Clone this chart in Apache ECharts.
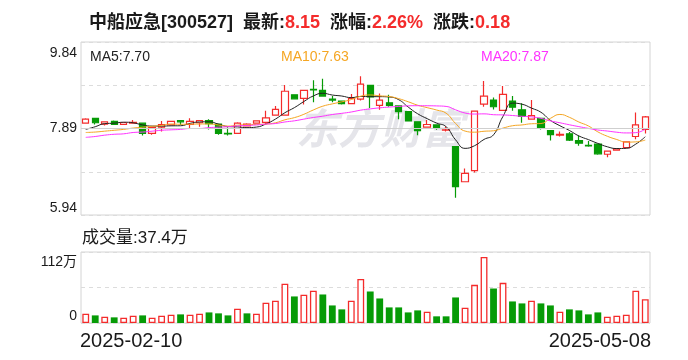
<!DOCTYPE html>
<html><head><meta charset="utf-8">
<script src="https://cdn.jsdelivr.net/npm/echarts@6/dist/echarts.min.js"></script>
<style>html,body{margin:0;padding:0;background:#fff}#c{width:688px;height:360px}</style>
</head><body><div id="c"></div>
<script>
const dates = ['2025-02-10','2025-02-11','2025-02-12','2025-02-13','2025-02-14','2025-02-17','2025-02-18','2025-02-19','2025-02-20','2025-02-21','2025-02-24','2025-02-25','2025-02-26','2025-02-27','2025-02-28',
'2025-03-03','2025-03-04','2025-03-05','2025-03-06','2025-03-07','2025-03-10','2025-03-11','2025-03-12','2025-03-13','2025-03-14','2025-03-17','2025-03-18','2025-03-19','2025-03-20','2025-03-21','2025-03-24','2025-03-25','2025-03-26','2025-03-27','2025-03-28','2025-03-31',
'2025-04-01','2025-04-02','2025-04-03','2025-04-07','2025-04-08','2025-04-09','2025-04-10','2025-04-11','2025-04-14','2025-04-15','2025-04-16','2025-04-17','2025-04-18','2025-04-21','2025-04-22','2025-04-23','2025-04-24','2025-04-25','2025-04-28','2025-04-29','2025-04-30',
'2025-05-06','2025-05-07','2025-05-08'];
const opens = [8.01,8.12,7.99,8.05,7.98,8.01,8.01,7.78,7.92,7.97,
8.07,7.98,8.02,8.07,7.99,7.78,7.78,7.95,8.01,8.03,
8.19,8.19,8.65,8.57,8.77,8.75,8.55,8.51,8.45,8.55,
8.86,8.41,8.47,8.40,8.27,8.04,7.92,7.97,7.85,7.48,
6.69,6.94,8.44,8.53,8.30,8.51,8.31,8.10,8.12,7.84,
7.74,7.77,7.62,7.51,7.54,7.31,7.40,7.46,7.71,7.87];
const closes = [8.10,8.02,8.04,7.98,8.02,8.03,7.78,7.91,7.98,8.05,
8.04,8.05,8.07,8.00,7.78,7.77,8.01,7.99,8.06,8.13,
8.32,8.73,8.56,8.75,8.76,8.62,8.53,8.45,8.57,8.89,
8.60,8.53,8.41,8.27,8.06,7.84,7.98,7.91,7.86,6.58,
6.88,8.28,8.62,8.38,8.66,8.37,8.16,8.18,7.91,7.75,
7.76,7.63,7.56,7.50,7.32,7.38,7.43,7.59,7.97,8.15];
const lows = [8.00,7.98,7.96,7.97,7.97,8.00,7.73,7.75,7.82,7.96,
7.97,7.89,7.93,7.87,7.75,7.73,7.78,7.94,8.00,7.99,
8.18,8.18,8.55,8.43,8.48,8.61,8.48,8.43,8.44,8.52,
8.35,8.31,8.38,8.10,8.05,7.74,7.91,7.86,7.82,6.33,
6.68,6.90,8.38,8.32,8.29,8.29,8.02,8.09,7.87,7.62,
7.71,7.61,7.50,7.48,7.30,7.24,7.39,7.45,7.65,7.78];
const highs = [8.12,8.12,8.05,8.07,8.03,8.08,8.02,7.91,8.06,8.06,
8.07,8.12,8.08,8.10,7.99,7.92,8.03,8.01,8.07,8.29,
8.40,8.87,8.66,8.76,8.98,9.01,8.62,8.52,8.67,9.07,
8.87,8.68,8.65,8.40,8.28,8.05,8.08,7.97,7.93,7.49,
6.99,8.29,8.96,8.59,8.85,8.62,8.46,8.53,8.12,7.85,
7.82,7.81,7.73,7.61,7.55,7.39,7.44,7.60,8.25,8.17];
const volumes = [14.7,12.0,9.9,8.9,8.4,11.5,12.0,8.4,11.5,13.1,
13.6,13.1,14.7,16.7,15.2,12.0,22.5,15.2,14.7,31.9,
35.1,61.8,41.9,44.5,50.8,45.0,27.7,21.5,35.1,69.6,
49.7,38.7,24.6,24.6,16.7,19.9,17.8,10.5,10.5,40.3,
24.1,60.2,104.1,54.4,63.3,34.0,30.9,35.1,30.9,27.7,
17.8,21.5,19.9,13.6,16.7,9.9,11.5,13.1,50.8,37.4];
// moving-average values before a full window exists
const ma5Head = [7.87,7.93,8.00,8.01];
const ma10Head = [7.80,7.81,7.83,7.85,7.87,7.90,7.92,7.94,7.96];
const ma20Head = [7.69,7.71,7.74,7.76,7.77,7.80,7.81,7.83,7.85,7.86,7.87,7.89,7.89,7.91,7.92,7.93,7.95,7.96,7.97];
const priceTicks = [5.94, 7.89, 9.84];
const volTicks = [0, 112];

function ma(n, head) {
  return closes.map((c, i) => {
    if (i < n - 1) return head[i];
    let s = 0;
    for (let k = i - n + 1; k <= i; k++) s += closes[k];
    return +(s / n).toFixed(3);
  });
}
const ma5 = ma(5, ma5Head), ma10 = ma(10, ma10Head), ma20 = ma(20, ma20Head);
const UP = '#f42b2b', DOWN = '#069b06';
const FONT = '"Liberation Sans","Noto Sans CJK SC",sans-serif';
const last = closes.length - 1;
const chg = closes[last] - closes[last - 1];
const pct = chg / closes[last - 1] * 100;

const chart = echarts.init(document.getElementById('c'), null, {renderer: 'canvas'});
const isTick = (v, arr) => arr.some(t => Math.abs(v - t) < 1e-6);

const option = {
  animation: false,
  backgroundColor: '#fff',
  textStyle: {fontFamily: FONT},
  title: [
    {left: 89, top: 14, padding: 0,
     text: '{n|中船应急[300527]}  {n|最新:}{r|' + closes[last].toFixed(2) + '}  {n|涨幅:}{r|' + pct.toFixed(2) + '%}  {n|涨跌:}{r|' + chg.toFixed(2) + '}',
     textStyle: {rich: {n: {fontSize: 18, color: '#1a1a1a', fontFamily: FONT}, r: {fontSize: 18, color: UP, fontFamily: FONT}}}},
    {left: 90, top: 50, padding: 0, text: 'MA5:' + ma5[last].toFixed(2), textStyle: {fontSize: 14, fontWeight: 'normal', color: '#222', fontFamily: FONT}},
    {left: 281, top: 50, padding: 0, text: 'MA10:' + ma10[last].toFixed(2), textStyle: {fontSize: 14, fontWeight: 'normal', color: '#f5a623', fontFamily: FONT}},
    {left: 481, top: 50, padding: 0, text: 'MA20:' + ma20[last].toFixed(2), textStyle: {fontSize: 14, fontWeight: 'normal', color: '#ff33ff', fontFamily: FONT}},
    {left: 82, top: 230, padding: 0, text: '成交量:' + volumes[last].toFixed(1) + '万', textStyle: {fontSize: 17, fontWeight: 'normal', color: '#1a1a1a', fontFamily: FONT}}
  ],
  graphic: [
    {type: 'text', left: 296, top: 107, z: 0, silent: true,
     style: {text: '东方财富', fontSize: 42, fontWeight: 'bold', fontStyle: 'italic', fill: '#e5e5ea', fontFamily: '"Noto Sans CJK SC",sans-serif'}}
  ],
  grid: [
    {left: 81, top: 42, width: 569, height: 173, show: true, borderColor: '#d4d4d4', borderWidth: 1, backgroundColor: 'transparent'},
    {left: 81, top: 252, width: 569, height: 71, show: true, borderColor: '#d4d4d4', borderWidth: 1, backgroundColor: 'transparent'},
    {left: 80, top: 252, width: 571, height: 71, show: false}
  ],
  xAxis: [
    {type: 'category', gridIndex: 0, data: dates, boundaryGap: true,
     axisLine: {show: false}, axisTick: {show: false}, axisLabel: {show: false}, splitLine: {show: false}},
    {type: 'category', gridIndex: 1, data: dates, boundaryGap: true,
     axisLine: {show: false}, axisTick: {show: false}, axisLabel: {show: false}, splitLine: {show: false}},
    {type: 'category', gridIndex: 2, data: dates, boundaryGap: false,
     axisLine: {show: false}, axisTick: {show: false}, splitLine: {show: false},
     axisLabel: {show: true, interval: (i) => i === 0 || i === dates.length - 1,
       alignMinLabel: 'left', alignMaxLabel: 'right', fontSize: 20, color: '#1a1a1a', margin: 8, fontFamily: FONT}}
  ],
  yAxis: [
    {type: 'value', gridIndex: 0, min: priceTicks[0], max: priceTicks[2], interval: (priceTicks[2] - priceTicks[0]) / 4,
     axisLine: {show: false}, axisTick: {show: false},
     axisLabel: {fontSize: 14, color: '#1a1a1a', margin: 4, fontFamily: FONT,
       verticalAlignMinLabel: 'bottom', verticalAlignMaxLabel: 'top',
       rich: {t: {fontSize: 14, color: '#1a1a1a', fontFamily: FONT, padding: [4, 0, 0, 0]}},
       formatter: (v) => Math.abs(v - priceTicks[2]) < 1e-6 ? '{t|' + v.toFixed(2) + '}' : (isTick(v, priceTicks) ? v.toFixed(2) : '')},
     splitLine: {show: true, lineStyle: {color: '#dcdcdc', type: [4, 4], width: 1}}},
    {type: 'value', gridIndex: 1, min: volTicks[0], max: volTicks[1], interval: (volTicks[1] - volTicks[0]) / 2,
     axisLine: {show: false}, axisTick: {show: false},
     axisLabel: {fontSize: 14, color: '#1a1a1a', margin: 4, fontFamily: FONT,
       verticalAlignMinLabel: 'bottom', verticalAlignMaxLabel: 'top',
       rich: {t: {fontSize: 14, color: '#1a1a1a', fontFamily: FONT, padding: [3, 0, 0, 0]}},
       formatter: (v) => v === volTicks[1] ? '{t|' + v + '万}' : (v === volTicks[0] ? '0' : '')},
     splitLine: {show: true, lineStyle: {color: '#dcdcdc', type: [4, 4], width: 1}}},
    {type: 'value', gridIndex: 2, show: false}
  ],
  series: [
    {type: 'candlestick', xAxisIndex: 0, yAxisIndex: 0, barWidth: '72%',
     data: dates.map((d, i) => [opens[i], closes[i], lows[i], highs[i]]),
     itemStyle: {color: '#ffffff', color0: DOWN, borderColor: UP, borderColor0: DOWN, borderWidth: 1.2},
     markLine: {silent: true, symbol: 'none', label: {show: false},
       lineStyle: {color: '#cfcfcf', type: 'solid', width: 1},
       data: [{yAxis: priceTicks[1]}]}},
    {type: 'line', name: 'MA5', data: ma5, showSymbol: false, smooth: true, lineStyle: {color: '#222', width: 1}, z: 3},
    {type: 'line', name: 'MA10', data: ma10, showSymbol: false, smooth: true, lineStyle: {color: '#f5a623', width: 1}, z: 3},
    {type: 'line', name: 'MA20', data: ma20, showSymbol: false, smooth: true, lineStyle: {color: '#ff33ff', width: 1}, z: 3},
    {type: 'bar', xAxisIndex: 1, yAxisIndex: 1, barWidth: '72%',
     data: volumes.map((v, i) => {
       const up = i === 0 ? closes[i] >= opens[i] : closes[i] >= closes[i - 1];
       return {value: v, itemStyle: up ? {color: '#ffffff', borderColor: UP, borderWidth: 1.3} : {color: DOWN}};
     })}
  ]
};
chart.setOption(option);
</script>
</body></html>
